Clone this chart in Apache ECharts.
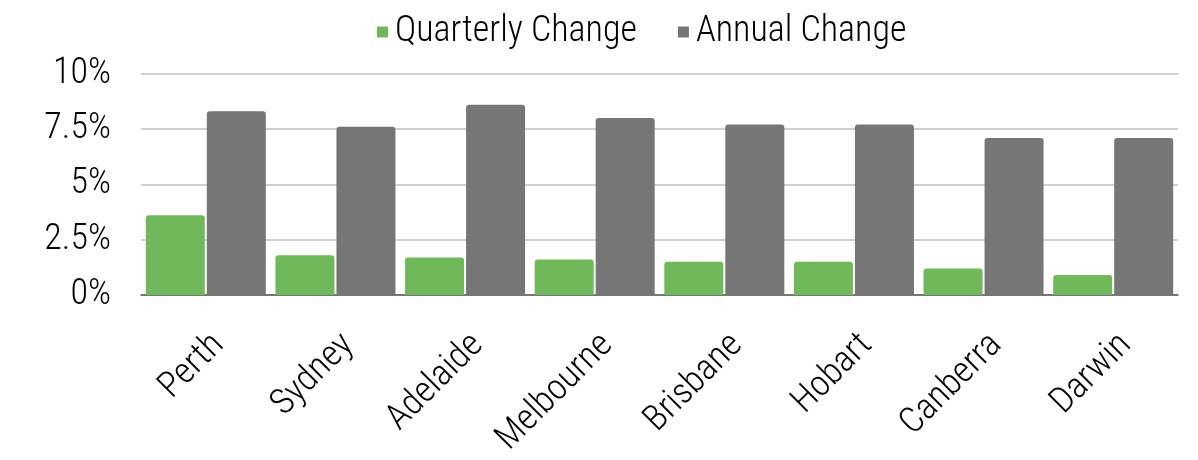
<!DOCTYPE html>
<html>
<head>
<meta charset="utf-8">
<script src="https://cdn.jsdelivr.net/npm/echarts@6/dist/echarts.min.js"></script>
<style>
  html, body { margin: 0; padding: 0; background: #fff; }
  #chart { width: 1198px; height: 460px; }
</style>
</head>
<body>
<div id="chart"></div>
<script>
const categories = ['Perth', 'Sydney', 'Adelaide', 'Melbourne', 'Brisbane', 'Hobart', 'Canberra', 'Darwin'];
const quarterlyChange = [3.6, 1.8, 1.7, 1.6, 1.5, 1.5, 1.2, 0.9];
const annualChange = [8.3, 7.6, 8.6, 8.0, 7.7, 7.7, 7.1, 7.1];
const yTickLabels = { 0: '0%', 2.5: '2.5%', 5: '5%', 7.5: '7.5%', 10: '10%' };

const FONT = "'Liberation Sans Narrow', 'Roboto Condensed', 'DejaVu Sans Condensed', sans-serif";

const chart = echarts.init(document.getElementById('chart'), null, { renderer: 'canvas' });
chart.setOption({
  animation: false,
  backgroundColor: '#ffffff',
  textStyle: { fontFamily: FONT },
  legend: {
    left: 372,
    top: 9,
    itemWidth: 11,
    itemHeight: 11,
    itemGap: 41,
    icon: 'rect',
    textStyle: { fontFamily: FONT, fontSize: 36, fontWeight: 300, color: '#000', padding: [0, 0, 0, 2] },
    data: ['Quarterly Change', 'Annual Change']
  },
  grid: { left: 141, right: 20, top: 73.7, bottom: 165, containLabel: false },
  xAxis: {
    type: 'category',
    data: categories,
    axisLine: { show: true, lineStyle: { color: '#595959', width: 1.5 } },
    axisTick: { show: false },
    axisLabel: {
      rotate: 45,
      margin: 32,
      interval: 0,
      fontFamily: FONT,
      fontSize: 36,
      fontWeight: 300,
      color: '#000',
      verticalAlign: 'top'
    }
  },
  yAxis: {
    type: 'value',
    min: 0,
    max: 10,
    interval: 2.5,
    axisLine: { show: false },
    axisTick: { show: false },
    splitLine: { lineStyle: { color: '#BFBFBF', width: 1.5 } },
    axisLabel: {
      margin: 30,
      fontFamily: FONT,
      fontSize: 36,
      fontWeight: 300,
      color: '#000',
      formatter: v => yTickLabels[v] !== undefined ? yTickLabels[v] : ''
    }
  },
  series: [
    {
      name: 'Quarterly Change',
      type: 'bar',
      data: quarterlyChange,
      barWidth: 59,
      barGap: '3.4%',
      itemStyle: { color: '#70B85A', borderRadius: [3, 3, 0, 0] }
    },
    {
      name: 'Annual Change',
      type: 'bar',
      data: annualChange,
      barWidth: 59,
      barGap: '3.4%',
      itemStyle: { color: '#767676', borderRadius: [3, 3, 0, 0] }
    }
  ]
});
</script>
</body>
</html>
